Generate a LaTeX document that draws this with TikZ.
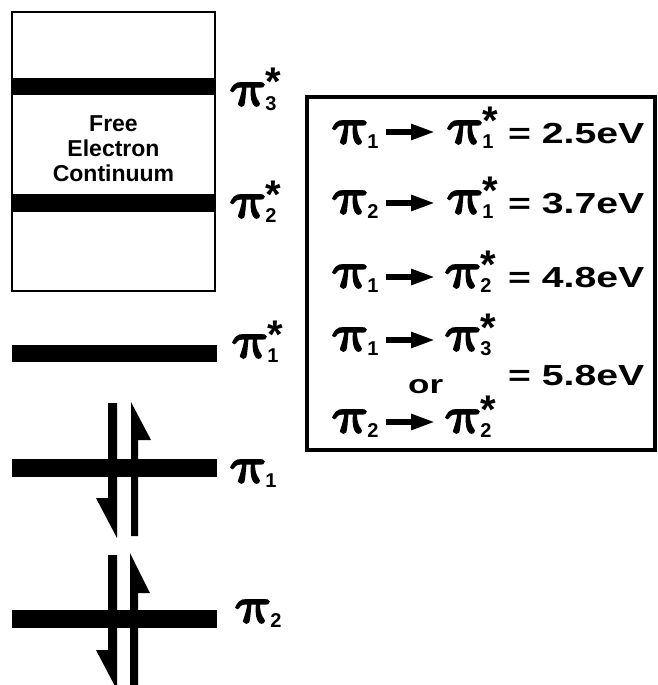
\documentclass[tikz,border=0pt]{standalone}
\usepackage{fontspec}
\usetikzlibrary{arrows.meta}
\setmainfont{Liberation Sans}
\newfontfamily\hvw{Liberation Sans}[FakeStretch=1.35]
\newfontfamily\pifam{Latin Modern Math}[FakeSlant=-0.22,FakeBold=5,FakeStretch=1.22]
\newcommand\pif{\pifam\fontsize{50}{50}\selectfont}
\newcommand\subf{\bfseries\fontsize{20}{20}\selectfont}
\newcommand\starf{\bfseries\fontsize{40}{40}\selectfont}
\newcommand\orb[1]{\mbox{{\pif 𝜋}\kern-2.5pt\raisebox{-5pt}{\subf #1}}}
\newcommand\orbs[1]{\mbox{{\pif 𝜋}\kern-2.5pt\rlap{\raisebox{-5pt}{\subf #1}}\kern0pt\raisebox{9pt}{\starf *}}}
\begin{document}
\begin{tikzpicture}[x=1pt,y=-1pt,
  band/.style={line width=#1},
  lbl/.style={anchor=base west,inner sep=0pt},
  val/.style={anchor=base west,inner sep=0pt,font=\hvw\bfseries\fontsize{29}{29}\selectfont},
  tarrow/.style={line width=5.5pt,-{Triangle[length=24pt,width=15pt]}},
  frame/.style={draw,line width=#1}]
\useasboundingbox (0,0) rectangle (657,685);
% continuum box
\draw[frame=1.5pt] (12,12) rectangle (215,291);
\node[align=center,inner sep=0pt,font=\bfseries\fontsize{23}{25}\selectfont] (fec) at (113.5,148.5) {Free\\Electron\\Continuum};
% bands
\draw[band=17pt] (12,86.5) -- (215,86.5);
\draw[band=18pt] (12,203) -- (215,203);
\draw[band=17pt] (12,353.5) -- (217,353.5);
\draw[band=18pt] (12,468) -- (217,468);
\draw[band=18pt] (12,619) -- (217,619);
% level labels
\node[lbl] (l3s) at (233,105) {\orbs{3}};
\node[lbl] (l2s) at (233,217) {\orbs{2}};
\node[lbl] (l1s) at (235,357) {\orbs{1}};
\node[lbl] (l1) at (233,482) {\orb{1}};
\node[lbl] (l2) at (238,622) {\orb{2}};
% electron spins
\fill (108,403) -- (117,403) -- (117,538) -- (96,498) -- (108,498) -- cycle;
\fill (131,536) -- (131,402) -- (151,440) -- (138,440) -- (138,536) -- cycle;
\fill (108,555) -- (117,555) -- (117,690) -- (96,650) -- (108,650) -- cycle;
\fill (130,690) -- (130,553) -- (150,593) -- (138,593) -- (138,690) -- cycle;
% transitions box
\draw[frame=4pt] (307,96.5) rectangle (655,450);
\node[lbl] (a1) at (335,143) {\orb{1}};
\node[lbl] (b1) at (450,143) {\orbs{1}};
\node[val] (e1) at (508,143) {= 2.5eV};
\node[lbl] (a2) at (335,213) {\orb{2}};
\node[lbl] (b2) at (450,213) {\orbs{1}};
\node[val] (e2) at (508,213) {= 3.7eV};
\node[lbl] (a3) at (335,287) {\orb{1}};
\node[lbl] (b3) at (448,287) {\orbs{2}};
\node[val] (e3) at (508,287) {= 4.8eV};
\node[lbl] (a4) at (335,350) {\orb{1}};
\node[lbl] (b4) at (448,350) {\orbs{3}};
\node[lbl,font=\hvw\bfseries\fontsize{26}{26}\selectfont] (or) at (408,393) {or};
\node[lbl] (a5) at (335,432) {\orb{2}};
\node[lbl] (b5) at (448,432) {\orbs{2}};
\node[val] (e4) at (508,385) {= 5.8eV};
\draw[tarrow,shorten <=7pt,shorten >=15pt] (a1.east |- 0,132) -- (b1.west |- 0,132);
\draw[tarrow,shorten <=7pt,shorten >=15pt] (a2.east |- 0,203) -- (b2.west |- 0,203);
\draw[tarrow,shorten <=7pt,shorten >=13pt] (a3.east |- 0,277) -- (b3.west |- 0,277);
\draw[tarrow,shorten <=7pt,shorten >=13pt] (a4.east |- 0,340) -- (b4.west |- 0,340);
\draw[tarrow,shorten <=7pt,shorten >=13pt] (a5.east |- 0,422) -- (b5.west |- 0,422);
\end{tikzpicture}
\end{document}
